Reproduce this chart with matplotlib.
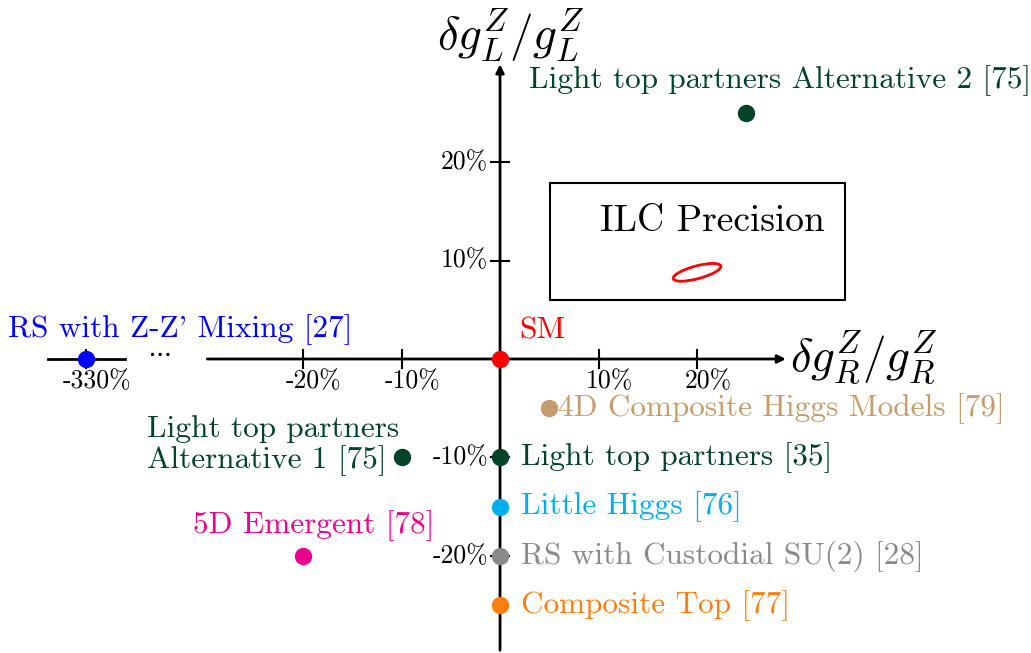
import numpy as np
import matplotlib
matplotlib.use("Agg")
import matplotlib.pyplot as plt
from matplotlib.patches import Ellipse, Rectangle

plt.rcParams["font.family"] = ["cmr10", "DejaVu Serif"]
plt.rcParams["mathtext.fontset"] = "cm"
plt.rcParams["axes.unicode_minus"] = False

# model predictions (delta g_R / g_R, delta g_L / g_L) in percent
models = ["SM", "Light top partners Alternative 2 [75]", "4D Composite Higgs Models [79]",
          "Light top partners [35]", "Light top partners\nAlternative 1 [75]", "Little Higgs [76]",
          "RS with Custodial SU(2) [28]", "Composite Top [77]", "5D Emergent [78]",
          "RS with Z-Z' Mixing [27]"]
dgR = [0, 25, 5, 0, -10, 0, 0, 0, -20, -330]
dgL = [0, 25, -5, -10, -10, -15, -20, -25, -20, 0]
colors = ["#ff0000", "#024229", "#c69c6d", "#024229", "#024229", "#00aeef",
          "#8a8a8a", "#ff7f0e", "#ec008c", "#0000ff"]

x_ticks = [-20, -10, 10, 20]
y_ticks = [-20, -10, 10, 20]

# ILC precision ellipse (centre, size, angle)
ilc_center = (20, 8.8)


def brk(v):
    # compress the far-away region of the broken x axis
    return v if v >= -30 else -42 + (v + 330) * 0.01


fig = plt.figure(figsize=(10.31, 6.53), dpi=100)
ax = fig.add_axes([0, 0, 1, 1])
ax.set_xlim(-50.76, 53.9)
ax.set_ylim(-29.85, 36.45)
ax.axis("off")

# axes with arrows
ax.annotate("", xy=(29.3, 0), xytext=(-30, 0),
            arrowprops=dict(arrowstyle="-|>", color="black", lw=2, mutation_scale=12))
ax.annotate("", xy=(0, 30.2), xytext=(0, -29.85),
            arrowprops=dict(arrowstyle="-|>", color="black", lw=2, mutation_scale=12))
ax.plot([-45.9, -38.1], [0, 0], color="black", lw=2)
ax.text(-34.6, 0.6, r"$\cdots$", ha="center", va="center", fontsize=19)

# ticks
for t in x_ticks:
    ax.plot([t, t], [-0.9, 0.9], color="black", lw=1.5)
    ax.text(t + 1.1, -1.1, f"{t}%", ha="center", va="top", fontsize=18.5)
ax.plot([brk(-330), brk(-330)], [-0.9, 0.9], color="black", lw=1.5)
ax.text(brk(-330) + 1.1, -1.1, "-330%", ha="center", va="top", fontsize=18.5)
for t in y_ticks:
    ax.plot([-0.9, 0.9], [t, t], color="black", lw=1.5)
    ax.text(-1.2, t, f"{t}%", ha="right", va="center", fontsize=18.5)

ax.text(1.1, 32.9, r"$\delta g_L^Z/g_L^Z$", ha="center", va="center", fontsize=34)
ax.text(29.4, 0.1, r"$\delta g_R^Z/g_R^Z$", ha="left", va="center", fontsize=34)

# ILC precision box
ax.add_patch(Rectangle((5.1, 6.0), 29.9, 11.9, fill=False, ec="black", lw=1.5))
ax.text(21.6, 14.0, "ILC Precision", ha="center", va="center", fontsize=27)
ax.add_patch(Ellipse(ilc_center, 5.0, 1.3, angle=15, fill=False, ec="red", lw=2))

# points
for name, x, y, c in zip(models, dgR, dgL, colors):
    ax.plot(brk(x), y, "o", color=c, ms=11.5, zorder=5)

lab = dict(fontsize=22.5)
ax.text(1.9, 2.9, models[0], color=colors[0], ha="left", va="center", **lab)
ax.text(28.4, 28.3, models[1], color=colors[1], ha="center", va="center", **lab)
ax.text(5.9, -5.0, models[2], color=colors[2], ha="left", va="center", **lab)
ax.text(2.1, -10.0, models[3], color=colors[3], ha="left", va="center", **lab)
ax.text(-10.2, -8.8, models[4], color=colors[4], ha="right", va="center",
        multialignment="left", linespacing=1.07, **lab)
ax.text(2.1, -15.0, models[5], color=colors[5], ha="left", va="center", **lab)
ax.text(2.1, -20.0, models[6], color=colors[6], ha="left", va="center", **lab)
ax.text(2.1, -25.0, models[7], color=colors[7], ha="left", va="center", **lab)
ax.text(-18.9, -16.9, models[8], color=colors[8], ha="center", va="center", **lab)
ax.text(-32.5, 3.0, models[9], color=colors[9], ha="center", va="center", **lab)

fig.savefig("out.png", dpi=100)
